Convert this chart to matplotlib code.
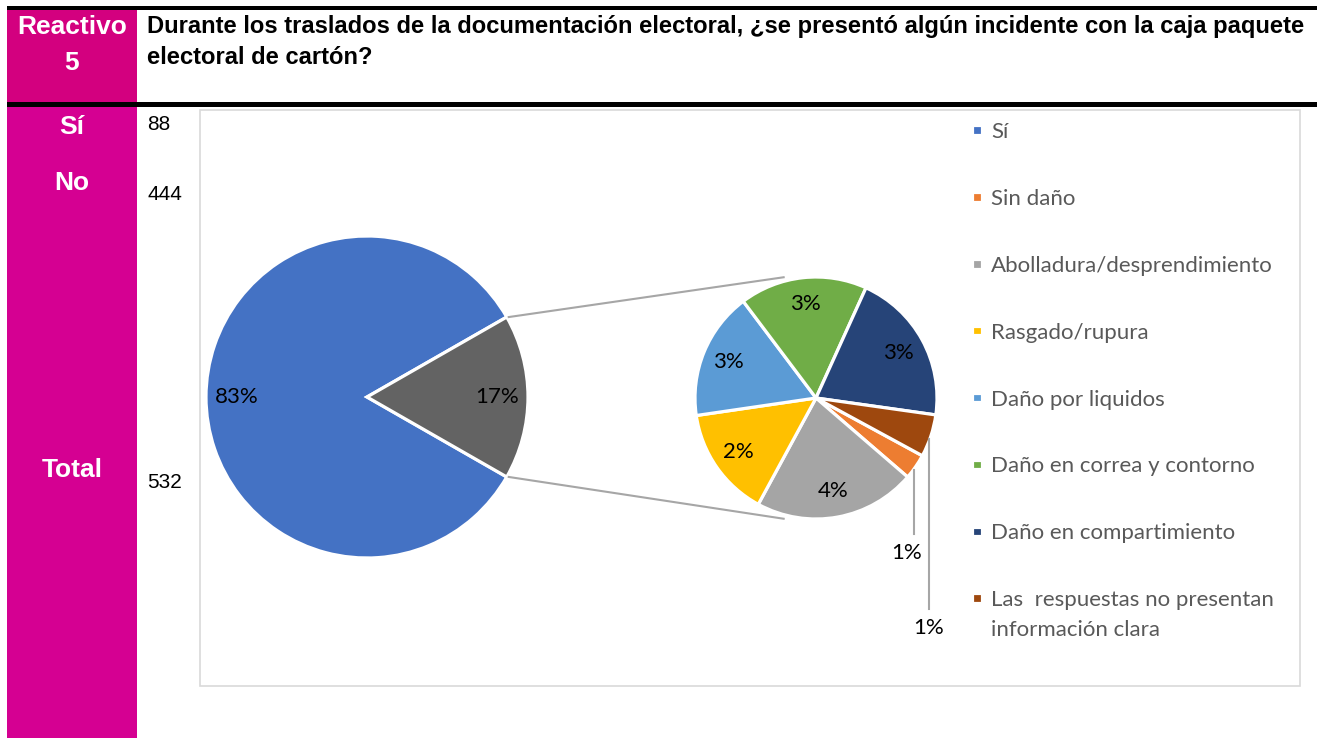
import numpy as np
import matplotlib.pyplot as plt
from matplotlib.patches import Rectangle

# question header
reactivo = "Reactivo\n5"
question = ["Durante los traslados de la documentación electoral, ¿se presentó algún incidente con la caja paquete",
            "electoral de cartón?"]

# left table
row_labels = ["Sí", "No", "Total"]
row_counts = [88, 444, 532]

# main pie (blue slice is labelled "Sí" in the original legend)
main_values = [444, 88]
main_colors = ["#4472C4", "#636363"]
main_legend = "Sí"

# secondary pie: breakdown of the 88
sub_labels = ["Sin daño", "Abolladura/desprendimiento", "Rasgado/rupura", "Daño por liquidos",
              "Daño en correa y contorno", "Daño en compartimiento",
              "Las  respuestas no presentan"]
sub_label_cont = "información clara"
sub_values = [3, 19, 13, 15, 15, 18, 5]
sub_colors = ["#ED7D31", "#A5A5A5", "#FFC000", "#5B9BD5", "#70AD47", "#264478", "#9E480E"]

W, H = 1317, 738
MAGENTA_TOP = "#D3007F"
MAGENTA = "#D50092"
CHART_FONT = "Lato"


def Y(y):
    # image row -> data y (axes is 1 px per unit, y up)
    return H - y


fig = plt.figure(figsize=(W / 100, H / 100), dpi=100)
ax = fig.add_axes([0, 0, 1, 1])

# table background
ax.add_patch(Rectangle((7, Y(10)), W - 7, 4, color="black", lw=0))
ax.add_patch(Rectangle((7, Y(102)), 130, 92, color=MAGENTA_TOP, lw=0))
ax.add_patch(Rectangle((7, Y(107)), W - 7, 5, color="black", lw=0))
ax.add_patch(Rectangle((7, 0), 130, Y(107), color=MAGENTA, lw=0))
ax.add_patch(Rectangle((200, Y(686)), 1100, 576, fill=False, ec="#D9D9D9", lw=1.2))

ax.text(72, Y(27), reactivo.split("\n")[0], ha="center", va="center", color="white",
        fontsize=19, fontweight="bold", family="Liberation Sans")
ax.text(72, Y(63), reactivo.split("\n")[1], ha="center", va="center", color="white",
        fontsize=19, fontweight="bold", family="Liberation Sans")
for line, yy in zip(question, [27, 58]):
    ax.text(147, Y(yy), line, ha="left", va="center", color="black",
            fontsize=17.1, fontweight="bold", family="Liberation Sans")

for lab, cnt, yl, yc in zip(row_labels, row_counts, [127, 183, 470], [125, 195, 483]):
    ax.text(72, Y(yl), lab, ha="center", va="center", color="white",
            fontsize=19, fontweight="bold", family="Liberation Sans")
    ax.text(147, Y(yc), str(cnt), ha="left", va="center", color="black",
            fontsize=15, family="Liberation Sans")

total = sum(main_values)
sub_total = main_values[1]

# main pie, "other" slice centred on the right
main_center = (367, Y(397))
main_r = 161
start = 180.0 * sub_total / total
wm, _, tm = ax.pie(main_values, colors=main_colors, startangle=start, center=main_center,
                   radius=main_r, autopct="%.0f%%", pctdistance=0.81,
                   wedgeprops=dict(edgecolor="white", linewidth=2.3),
                   textprops=dict(fontsize=16, family=CHART_FONT, color="black"))

# secondary pie, percentages of the grand total
sub_center = (816, Y(398))
sub_r = 121
ws, _, ts = ax.pie(sub_values, colors=sub_colors, startangle=-28.5, counterclock=False,
                   center=sub_center, radius=sub_r, pctdistance=0.78,
                   autopct=lambda p: "%.0f%%" % (p * sum(sub_values) / total),
                   wedgeprops=dict(edgecolor="white", linewidth=2.3),
                   textprops=dict(fontsize=16, family=CHART_FONT, color="black"))

# small slices: labels below with leader lines
for i, drop, dx in [(0, 67, -7), (6, 173, 0)]:
    w = ws[i]
    mid = np.radians((w.theta1 + w.theta2) / 2)
    ex = sub_center[0] + sub_r * np.cos(mid)
    ey = sub_center[1] + sub_r * np.sin(mid)
    ax.plot([ex - 2, ex - 2], [ey - 3, ey - drop], color="#A6A6A6", lw=1.5)
    ts[i].set_position((ex - 2 + dx, ey - drop - 19))
    ts[i].set_ha("center")
    ts[i].set_va("center")

# connector lines between the pies
g = wm[1]
for ang, sang in [(g.theta2, 105), (g.theta1, -105)]:
    a = np.radians(ang)
    b = np.radians(sang)
    ax.plot([main_center[0] + main_r * np.cos(a) + 2, sub_center[0] + 125 * np.cos(b)],
            [main_center[1] + main_r * np.sin(a), sub_center[1] + 125 * np.sin(b)],
            color="#A6A6A6", lw=1.5)

leg = ax.legend([wm[0]] + list(ws), [main_legend] + sub_labels, loc="upper left",
                bbox_to_anchor=(972, Y(122)), bbox_transform=ax.transData,
                frameon=False, borderpad=0, borderaxespad=0,
                handlelength=0.44, handleheight=0.28, handletextpad=0.42,
                labelspacing=2.11, prop=dict(family=CHART_FONT, size=16), labelcolor="#595959")

ax.set_xlim(0, W)
ax.set_ylim(0, H)
ax.set_aspect("auto")
ax.axis("off")

# second line of the last legend entry
fig.canvas.draw()
bb = leg.get_texts()[-1].get_window_extent()
ax.text(bb.x0, (bb.y0 + bb.y1) / 2 - 30, sub_label_cont, ha="left", va="center",
        color="#595959", fontsize=16, family=CHART_FONT)

fig.savefig("out.png", dpi=100)
